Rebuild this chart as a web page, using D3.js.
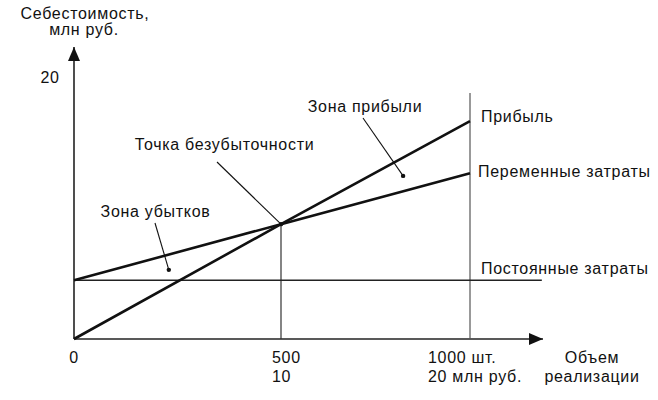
<!DOCTYPE html>
<html><head><meta charset="utf-8">
<script src="https://cdn.jsdelivr.net/npm/d3@7"></script>
<style>
html,body{margin:0;padding:0;background:#fff;}
text{font-family:"Liberation Sans",Arial,Helvetica,sans-serif;fill:#111;letter-spacing:0.7px;}
</style></head>
<body><svg id="c" width="658" height="400"></svg>
<script>
// ---- data ----
const volume = [0, 500, 1000];                 // шт.
const revenue = [0, 8.8, 16.7];                // Прибыль (выручка), млн руб.
const totalCosts = [4.5, 8.8, 12.7];           // Переменные затраты (совокупные)
const fixedVolume = [0, 1190];
const fixedCosts = [4.5, 4.5];                 // Постоянные затраты
const breakEven = {v: 500, c: 8.8};
const yTickValues = [20];
const xTickLabels = [["0"], ["500", "10"], ["1000 шт.", "20 млн руб."]];
const seriesLabels = ["Прибыль", "Переменные затраты", "Постоянные затраты"];
const lossDot = {v: 229, c: 5.3};
const profitDot = {v: 823, c: 12.5};

// ---- scales ----
const svg = d3.select("#c");
const x = d3.scaleLinear().domain([0, 500, 1000]).range([74, 281, 470]);
const y = d3.scaleLinear().domain([0, 20]).range([339, 78]);
const line = d3.line().x(d => x(d[0])).y(d => y(d[1]));

// arrow markers
const defs = svg.append("defs");
defs.append("marker").attr("id","arr").attr("viewBox","0 0 14 12")
  .attr("refX",14).attr("refY",6).attr("markerWidth",14).attr("markerHeight",12)
  .attr("markerUnits","userSpaceOnUse").attr("orient","auto")
  .append("path").attr("d","M0,0L14,6L0,12Z").attr("fill","#111");

// axes
svg.append("line").attr("x1",x(0)).attr("y1",y(0)).attr("x2",543).attr("y2",y(0))
  .attr("stroke","#222").attr("stroke-width",1.6).attr("marker-end","url(#arr)");
svg.append("line").attr("x1",x(0)).attr("y1",y(0)).attr("x2",x(0)).attr("y2",47)
  .attr("stroke","#222").attr("stroke-width",1.6).attr("marker-end","url(#arr)");

// vertical guides
svg.append("line").attr("x1",x(1000)).attr("x2",x(1000)).attr("y1",y(0)).attr("y2",93)
  .attr("stroke","#555").attr("stroke-width",1.2);
svg.append("line").attr("x1",x(breakEven.v)).attr("x2",x(breakEven.v)).attr("y1",y(0)).attr("y2",y(breakEven.c))
  .attr("stroke","#333").attr("stroke-width",1.2);

// fixed costs
svg.append("path").attr("d", line(fixedVolume.map((v,i)=>[v,fixedCosts[i]])))
  .attr("fill","none").attr("stroke","#222").attr("stroke-width",1.5);
// total costs
svg.append("path").attr("d", line(volume.map((v,i)=>[v,totalCosts[i]])))
  .attr("fill","none").attr("stroke","#111").attr("stroke-width",2.6);
// revenue
svg.append("path").attr("d", line(volume.map((v,i)=>[v,revenue[i]])))
  .attr("fill","none").attr("stroke","#111").attr("stroke-width",2.6);

// dots
[breakEven, lossDot, profitDot].forEach(d=>{
  svg.append("circle").attr("cx",x(d.v)).attr("cy",y(d.c)).attr("r",2.2).attr("fill","#111");
});

// leader lines
const leaders = [
  [[363,118],[x(profitDot.v),y(profitDot.c)]],
  [[217,162],[x(breakEven.v),y(breakEven.c)]],
  [[155,223],[x(lossDot.v),y(lossDot.c)]]
];
leaders.forEach(l=>svg.append("line").attr("x1",l[0][0]).attr("y1",l[0][1])
  .attr("x2",l[1][0]).attr("y2",l[1][1]).attr("stroke","#111").attr("stroke-width",1.1));

const fs = 16;
function txt(s, tx, ty, anchor){
  return svg.append("text").attr("x",tx).attr("y",ty).attr("text-anchor",anchor||"start")
    .attr("font-size",fs).text(s);
}
// annotations
txt("Зона прибыли", 365, 112, "middle");
txt("Точка безубыточности", 224.5, 150, "middle");
txt("Зона убытков", 155.5, 217, "middle");

// series labels
txt(seriesLabels[0], 481, 122);
txt(seriesLabels[1], 478, 177);
txt(seriesLabels[2], 481, 274);

// axis titles
txt("Себестоимость,", 85, 19, "middle");
txt("млн руб.", 84, 35, "middle");
txt("Объем", 592, 363, "middle");
txt("реализации", 592, 382, "middle");

// y tick
yTickValues.forEach(v=>txt(String(v), 50, y(v)+5, "middle"));

// x tick labels
const xPos = [{v:0, a:"middle", dx:0}, {v:500, a:"start", dx:-9}, {v:1000, a:"start", dx:-42}];
xTickLabels.forEach((lab,i)=>{
  lab.forEach((s,j)=>txt(s, x(volume[i])+xPos[i].dx, 363+j*19, xPos[i].a));
});
</script></body></html>
